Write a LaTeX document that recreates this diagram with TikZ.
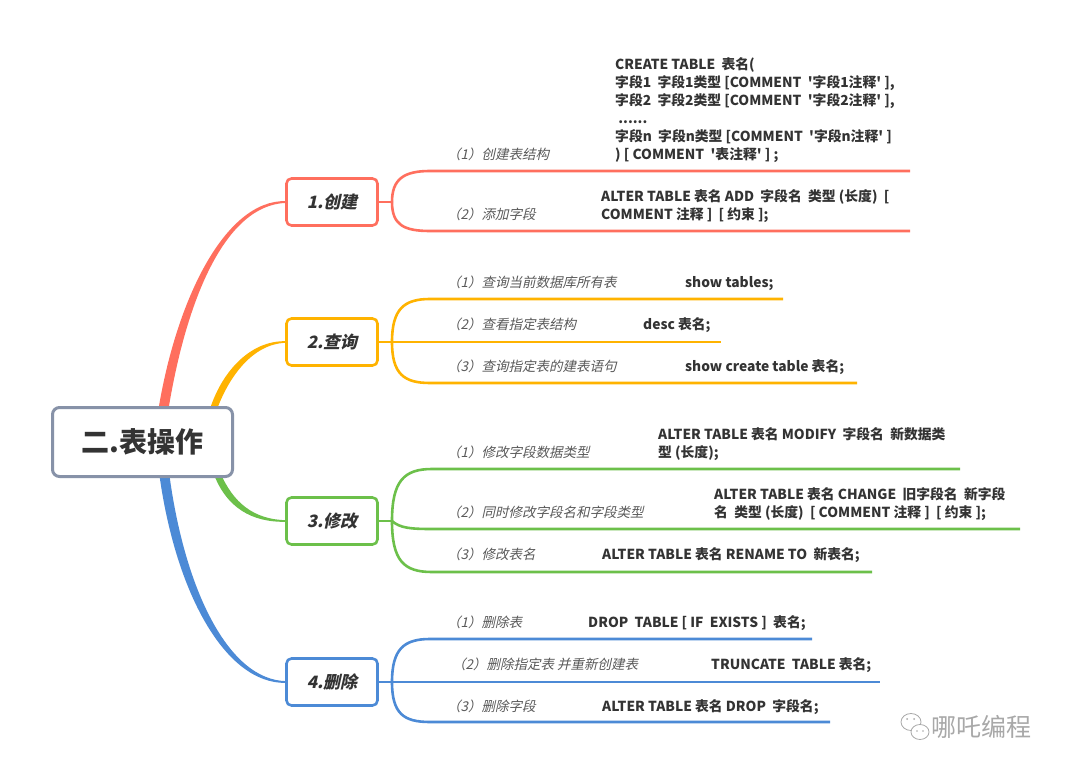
\documentclass[tikz,border=0pt]{standalone}
\usepackage{fontspec}
\usetikzlibrary{calc}
\newfontfamily\cjk{Noto Sans CJK SC}
\newfontfamily\cjkslant[FakeSlant=0.22]{Noto Sans CJK SC}
\definecolor{cred}{HTML}{FF6F5E}
\definecolor{corange}{HTML}{FFB300}
\definecolor{cgreen}{HTML}{6CC04A}
\definecolor{cblue}{HTML}{4C8AD6}
\definecolor{croot}{HTML}{8792A8}
\definecolor{ctext}{HTML}{333333}
\definecolor{clab}{HTML}{595959}
\definecolor{cwm}{HTML}{A8A8A8}
\begin{document}
\begin{tikzpicture}[x=1pt,y=-1pt,
  code/.style={anchor=west,inner sep=0pt,font=\cjk\bfseries\fontsize{13.8}{15}\selectfont,text=ctext,text height=11pt,text depth=2pt},
  lab/.style={anchor=west,inner sep=0pt,font=\cjkslant\fontsize{13.5}{15}\selectfont,text=clab,text height=11pt,text depth=2pt},
  subbox/.style={draw,line width=2.6pt,rounded corners=5pt,fill=white,minimum width=91pt,minimum height=47pt,inner sep=0pt,font=\cjkslant\bfseries\fontsize{17}{20}\selectfont,text=ctext},
  rootbox/.style={draw=croot,line width=3pt,rounded corners=7pt,fill=white,minimum width=180pt,minimum height=69pt,inner sep=0pt,font=\cjk\bfseries\fontsize{28}{32}\selectfont,text=ctext},
  sline/.style={line width=2.6pt}
]
\useasboundingbox (0,0) rectangle (1068,775);
\fill[white] (0,0) rectangle (1068,775);

% main tapered branches (drawn first, boxes cover their roots)
\fill[cred] (158,412) .. controls (176,300) and (225,199.5) .. (286,201.1)
  -- (286,202.9) .. controls (225,205) and (186,300) .. (168,412) -- cycle;
\fill[corange] (209,412) .. controls (221,372) and (250,340.3) .. (286,341.2)
  -- (286,342.8) .. controls (252,343.7) and (228,378) .. (216,412) -- cycle;
\fill[cgreen] (213,472) .. controls (226,508) and (252,522.5) .. (286,521.8)
  -- (286,520.2) .. controls (254,519.5) and (233,503) .. (220,472) -- cycle;
\fill[cblue] (159,472) .. controls (175,592) and (225,684) .. (286,682.9)
  -- (286,681.1) .. controls (228,680) and (184,588) .. (169,472) -- cycle;

% boxes
\node[rootbox] (root) at (142.5,442) {二.表操作};
\node[subbox,draw=cred] (b1) at (332,202) {1.创建};
\node[subbox,draw=corange] (b2) at (332,342) {2.查询};
\node[subbox,draw=cgreen] (b3) at (332,521) {3.修改};
\node[subbox,draw=cblue] (b4) at (332,682) {4.删除};

% ---------- 1 创建 ----------
\coordinate (j1) at (392,202);
\coordinate (e11) at (910,171);
\coordinate (e12) at (910,231);
\draw[cred,sline] (b1.east) -- (j1);
\draw[cred,sline] (j1) .. controls (392,179) and (404,171) .. (430,171) -- (e11);
\draw[cred,sline] (j1) .. controls (392,225) and (404,231) .. (430,231) -- (e12);
\node[lab] (l11) at (447,155) {（1）创建表结构};
\node[lab] (l12) at (447,215) {（2）添加字段};
\node[code] (c11a) at (615,65) {CREATE TABLE\ \ 表名(};
\node[code] (c11b) at (615,83) {字段1\ \ 字段1类型 [COMMENT\ \ '字段1注释' ],};
\node[code] (c11c) at (615,101) {字段2\ \ 字段2类型 [COMMENT\ \ '字段2注释' ],};
\node[code] (c11d) at (615,119) {\ ......};
\node[code] (c11e) at (615,137) {字段n\ \ 字段n类型 [COMMENT\ \ '字段n注释' ]};
\node[code] (c11f) at (615,155) {) [ COMMENT\ \ '表注释' ] ;};
\node[code] (c12a) at (601,197) {ALTER TABLE 表名 ADD\ \ 字段名\ \ 类型 (长度)\ \ [};
\node[code] (c12b) at (601,215) {COMMENT 注释 ]\ \ [ 约束 ];};

% ---------- 2 查询 ----------
\coordinate (j2) at (392,342);
\coordinate (e21) at (783,299);
\coordinate (e22) at (721,342);
\coordinate (e23) at (857,383);
\draw[corange,sline] (b2.east) -- (e22);
\draw[corange,sline] (j2) .. controls (392,309) and (404,299) .. (430,299) -- (e21);
\draw[corange,sline] (j2) .. controls (392,374) and (404,383) .. (430,383) -- (e23);
\node[lab] (l21) at (447,283) {（1）查询当前数据库所有表};
\node[lab] (l22) at (447,325) {（2）查看指定表结构};
\node[lab] (l23) at (447,367) {（3）查询指定表的建表语句};
\node[code] (c21) at (685,283) {show tables;};
\node[code] (c22) at (643,325) {desc 表名;};
\node[code] (c23) at (685,367) {show create table 表名;};

% ---------- 3 修改 ----------
\coordinate (j3) at (392,521);
\coordinate (e31) at (960,469);
\coordinate (e32) at (1020,529);
\coordinate (e33) at (872,572);
\draw[cgreen,sline] (b3.east) -- (j3);
\draw[cgreen,sline] (j3) .. controls (392,481) and (404,469) .. (432,469) -- (e31);
\draw[cgreen,sline] (j3) .. controls (400,528) and (410,529) .. (432,529) -- (e32);
\draw[cgreen,sline] (j3) .. controls (392,561) and (404,572) .. (432,572) -- (e33);
\node[lab] (l31) at (447,453) {（1）修改字段数据类型};
\node[lab] (l32) at (447,513) {（2）同时修改字段名和字段类型};
\node[lab] (l33) at (447,555) {（3）修改表名};
\node[code] (c31a) at (658,435) {ALTER TABLE 表名 MODIFY\ \ 字段名\ \ 新数据类};
\node[code] (c31b) at (658,453) {型 (长度);};
\node[code] (c32a) at (714,495) {ALTER TABLE 表名 CHANGE\ \ 旧字段名\ \ 新字段};
\node[code] (c32b) at (714,513) {名\ \ 类型 (长度)\ \ [ COMMENT 注释 ]\ \ [ 约束 ];};
\node[code] (c33) at (602,555) {ALTER TABLE 表名 RENAME TO\ \ 新表名;};

% ---------- 4 删除 ----------
\coordinate (j4) at (392,682);
\coordinate (e41) at (812,639);
\coordinate (e42) at (880,682);
\coordinate (e43) at (830,722);
\draw[cblue,sline] (b4.east) -- (e42);
\draw[cblue,sline] (j4) .. controls (392,649) and (404,639) .. (430,639) -- (e41);
\draw[cblue,sline] (j4) .. controls (392,714) and (404,722) .. (430,722) -- (e43);
\node[lab] (l41) at (447,623) {（1）删除表};
\node[lab] (l42) at (452,665) {（2）删除指定表 并重新创建表};
\node[lab] (l43) at (447,707) {（3）删除字段};
\node[code] (c41) at (588,623) {DROP\ \ TABLE [ IF\ \ EXISTS ]\ \ 表名;};
\node[code] (c42) at (711,665) {TRUNCATE\ \ TABLE 表名;};
\node[code] (c43) at (602,707) {ALTER TABLE 表名 DROP\ \ 字段名;};

% ---------- watermark ----------
\draw[cwm,line width=0.8pt] (911,722) ellipse [x radius=10pt,y radius=8.5pt];
\fill[white] (920,732) ellipse [x radius=9pt,y radius=7.5pt];
\draw[cwm,line width=0.8pt] (920,732) ellipse [x radius=9pt,y radius=7.5pt];
\fill[cwm] (907,719) circle (1pt) (914,719) circle (1pt) (917,731) circle (0.9pt) (923,731) circle (0.9pt);
\node[anchor=west,inner sep=0pt,font=\cjk\fontsize{25}{28}\selectfont,text=cwm] (wm) at (931,727) {哪吒编程};
\end{tikzpicture}
\end{document}
